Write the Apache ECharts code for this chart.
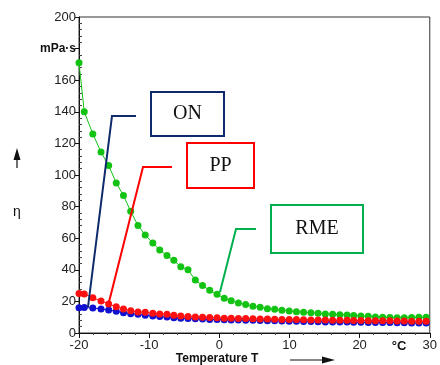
<!DOCTYPE html>
<html>
<head>
<meta charset="utf-8">
<script src="https://cdn.jsdelivr.net/npm/echarts@6/dist/echarts.min.js"></script>
<style>
  html, body { margin: 0; padding: 0; background: #fff; }
  #chart { width: 440px; height: 365px; }
</style>
</head>
<body>
<div id="chart"></div>
<script>
// temperature points (°C), shared by the three fuels
const temps = [
  -20, -19.25, -18.03, -16.86, -15.77, -14.69, -13.66, -12.63, -11.59, -10.56,
  -9.48, -8.49, -7.46, -6.48, -5.49, -4.46, -3.42, -2.39, -1.37, -0.32,
  0.7, 1.69, 2.72, 3.76, 4.79, 5.82, 6.86, 7.89, 8.92, 9.96,
  10.99, 12.01, 13.06, 14.08, 15.11, 16.15, 17.18, 18.21, 19.15, 20.18,
  21.23, 22.25, 23.28, 24.32, 25.35, 26.37, 27.41, 28.45, 29.48
];
// viscosity η in mPa·s
const rme = [
  171, 140, 126, 114.5, 106, 95, 87, 77, 68, 62,
  57, 52.5, 49, 46, 42, 40, 33.5, 30, 27, 24.5,
  22, 20.4, 19, 18, 17, 16.3, 15.4, 15, 14.4, 14,
  13.5, 13.1, 12.8, 12.5, 12, 11.8, 11.6, 11.4, 11, 10.8,
  10.6, 10.2, 10, 9.8, 9.6, 9.6, 9.8, 10, 10
];
const pp = [
  25, 24.7, 22.3, 20.3, 18.4, 16.6, 15.2, 14.1, 13.3, 13.1,
  12.5, 12, 11.8, 11.2, 10.8, 10.5, 10.2, 10, 9.8, 9.6,
  9.4, 9.3, 9.2, 9.1, 9.0, 8.9, 8.8, 8.7, 8.6, 8.5,
  8.5, 8.4, 8.3, 8.2, 8.2, 8.1, 8.0, 8.0, 7.9, 7.9,
  7.8, 7.8, 7.7, 7.7, 7.6, 7.6, 7.5, 7.5, 7.4
];
const on = [
  16, 16.2, 15.8, 15.2, 14.6, 13.7, 12.8, 12.2, 11.8, 11.2,
  10.8, 10.5, 10.1, 9.7, 9.4, 9.2, 9.0, 8.8, 8.6, 8.5,
  8.4, 8.3, 8.2, 8.1, 8.0, 7.9, 7.8, 7.7, 7.6, 7.5,
  7.4, 7.3, 7.2, 7.1, 7.0, 7.0, 6.9, 6.9, 6.8, 6.8,
  6.7, 6.7, 6.6, 6.6, 6.5, 6.5, 6.4, 6.4, 6.4
];

const NAVY = "#0d2b6b";
const SANS = "Liberation Sans, Arial, sans-serif";
const SERIF = "Liberation Serif, Times New Roman, serif";

const pairs = arr => temps.map((t, i) => [t, arr[i]]);

function lineSeries(name, arr, color) {
  return {
    name: name,
    type: "line",
    data: pairs(arr),
    symbol: "circle",
    symbolSize: 7,
    showSymbol: true,
    animation: false,
    itemStyle: { color: color },
    lineStyle: { color: color, width: 1 }
  };
}

// callout box + leader line
function callout(label, color, box, leader) {
  return [
    {
      type: "rect",
      shape: { x: box[0], y: box[1], width: box[2], height: box[3] },
      style: { fill: "#fff", stroke: color, lineWidth: 2 },
      z: 100
    },
    {
      type: "text",
      x: box[0] + box[2] / 2,
      y: box[1] + box[3] / 2,
      style: {
        text: label, font: "20px " + SERIF, fill: "#111",
        align: "center", verticalAlign: "middle"
      },
      z: 101
    },
    {
      type: "polyline",
      shape: { points: leader },
      style: { stroke: color, lineWidth: 2, fill: null },
      z: 100
    }
  ];
}

const chart = echarts.init(document.getElementById("chart"));

const option = {
  animation: false,
  grid: {
    left: 79, right: 6, top: 17, bottom: 32,
    show: true, borderColor: "#333", borderWidth: 1
  },
  xAxis: {
    type: "value",
    min: -20, max: 30, interval: 10,
    axisLine: { onZero: false, lineStyle: { color: "#111" } },
    axisTick: { length: 5, lineStyle: { color: "#111" } },
    minorTick: { show: true, splitNumber: 5, length: 2, lineStyle: { color: "#444" } },
    splitLine: { show: false },
    axisLabel: { color: "#222", fontSize: 13, fontFamily: SANS, margin: 6 }
  },
  yAxis: [
    {
      type: "value",
      min: 0, max: 200, interval: 20,
      axisLine: { show: true, onZero: false, lineStyle: { color: "#111" } },
      axisTick: { show: true, length: 4, lineStyle: { color: "#111" } },
      splitLine: { show: false },
      axisLabel: {
        color: "#222", fontSize: 13, fontFamily: SANS, margin: 3,
        formatter: v => (v === 180 ? "{u|mPa·s}" : String(v)),
        rich: { u: { fontWeight: "bold", fontSize: 12, fontFamily: SANS, color: "#111" } }
      }
    },
    {
      // inner minor ticks on the value axis
      type: "value",
      position: "left",
      min: 0, max: 200, interval: 20,
      axisLine: { show: false, onZero: false },
      axisTick: { show: false, inside: true },
      minorTick: { show: true, splitNumber: 5, length: 3, lineStyle: { color: "#444" } },
      splitLine: { show: false },
      axisLabel: { show: false }
    }
  ],
  series: [
    lineSeries("RME", rme, "#13c313"),
    lineSeries("ON", on, "#1010d0"),
    lineSeries("PP", pp, "#ff1010")
  ],
  graphic: [].concat(
    callout("ON", NAVY, [151, 92, 73, 44], [[136, 116], [112, 116], [88, 307]]),
    callout("PP", "#ff0000", [187, 143, 67, 45], [[172, 167], [143, 167], [109, 302]]),
    callout("RME", "#00b050", [271, 205, 92, 48], [[256, 229], [236, 229], [220, 292]]),
    [
      {
        type: "text", x: 399, y: 346,
        style: { text: "°C", font: "bold 13px " + SANS, fill: "#111", align: "center", verticalAlign: "middle" }
      },
      {
        type: "text", x: 217, y: 359,
        style: { text: "Temperature T", font: "bold 12px " + SANS, fill: "#111", align: "center", verticalAlign: "middle" }
      },
      {
        type: "line", shape: { x1: 290, y1: 360, x2: 324, y2: 360 },
        style: { stroke: "#111", lineWidth: 1.2 }
      },
      {
        type: "polygon", shape: { points: [[322, 356.5], [335, 360], [322, 363.5]] },
        style: { fill: "#111" }
      },
      {
        type: "line", shape: { x1: 17, y1: 168, x2: 17, y2: 158 },
        style: { stroke: "#111", lineWidth: 1.2 }
      },
      {
        type: "polygon", shape: { points: [[13.5, 160], [17, 148], [20.5, 160]] },
        style: { fill: "#111" }
      },
      {
        type: "text", x: 17, y: 212,
        style: { text: "η", font: "14px " + SANS, fill: "#111", align: "center", verticalAlign: "middle" }
      }
    ]
  )
};

chart.setOption(option);
</script>
</body>
</html>
